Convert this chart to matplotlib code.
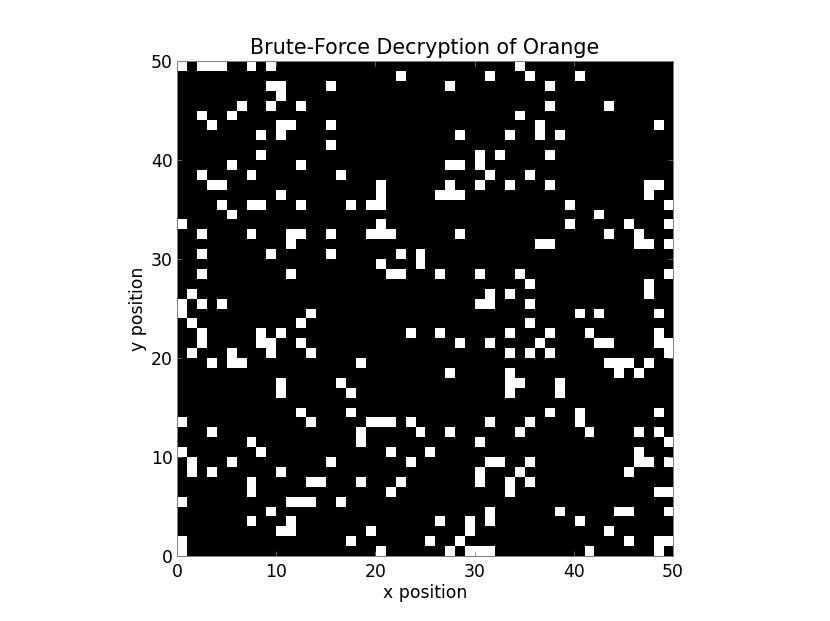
import numpy as np
import matplotlib
matplotlib.use("Agg")
import matplotlib.pyplot as plt

n_cells = 50

# columns of the white cells, one list per row, from y=49 down to y=0
white_cols = [
    [0, 2, 3, 4, 7, 9, 34],
    [22, 31, 35, 40],
    [9, 10, 15, 27, 37],
    [10],
    [6, 9, 12, 37, 43],
    [2, 5, 34],
    [3, 10, 11, 15, 36, 48],
    [8, 10, 28, 33, 36, 38],
    [15],
    [8, 30, 32, 37],
    [5, 12, 27, 28, 30],
    [2, 7, 16, 31, 35],
    [3, 4, 20, 27, 30, 33, 37, 47, 48],
    [10, 20, 26, 27, 28, 47],
    [4, 7, 8, 12, 17, 19, 20, 39, 49],
    [5, 42],
    [0, 20, 39, 45, 49],
    [2, 7, 11, 12, 15, 19, 20, 21, 28, 43, 46],
    [11, 36, 37, 46, 47, 49],
    [2, 9, 15, 22, 24],
    [20, 24],
    [2, 11, 21, 22, 26, 30, 34, 49],
    [35, 47],
    [1, 31, 33, 47],
    [0, 2, 4, 30, 31, 35],
    [0, 13, 40, 42, 48],
    [1, 12, 35],
    [2, 8, 10, 23, 26, 33, 37, 41, 48],
    [2, 8, 9, 12, 28, 31, 36, 42, 43, 48, 49],
    [1, 5, 9, 13, 33, 35, 37, 49],
    [3, 5, 6, 18, 43, 44, 45, 47],
    [27, 33, 44, 46],
    [10, 16, 33, 34, 38],
    [10, 17, 33, 38],
    [],
    [12, 17, 37, 40, 48],
    [0, 13, 19, 20, 21, 23, 31, 35, 40],
    [3, 18, 24, 27, 34, 41, 46, 48],
    [7, 18, 30, 49],
    [0, 8, 21, 25, 46],
    [1, 5, 15, 23, 31, 32, 35, 46, 47, 49],
    [1, 3, 10, 30, 34, 45],
    [7, 13, 14, 18, 22, 30, 33, 35],
    [7, 21, 33, 48, 49],
    [0, 11, 12, 13, 16],
    [9, 31, 38, 44, 45, 49],
    [7, 11, 26, 29, 31, 40],
    [10, 11, 19, 29, 43],
    [0, 17, 25, 28, 45, 48, 49],
    [0, 20, 27, 29, 30, 31, 41, 48],
]
tick_vals = [0, 10, 20, 30, 40, 50]

grid = np.zeros((n_cells, n_cells))
for i, cols in enumerate(white_cols):
    grid[n_cells - 1 - i, cols] = 1

fig = plt.figure(figsize=(8.3, 6.21), dpi=100)
ax = fig.add_axes([177 / 830, 1 - 556 / 621, 496 / 830, 495 / 621])
ax.imshow(grid, cmap="gray", origin="lower", extent=(0, n_cells, 0, n_cells),
          interpolation="nearest", aspect="auto")
ax.set_xticks(tick_vals)
ax.set_yticks(tick_vals)
ax.tick_params(direction="in", top=True, right=True, length=3.6, width=0.5,
               color="#808080", labelsize=12.4)
ax.tick_params(axis="x", pad=5)
ax.tick_params(axis="y", pad=3)
for spine in ax.spines.values():
    spine.set_color("#808080")
    spine.set_linewidth(0.72)
ax.set_title("Brute-Force Decryption of Orange", fontsize=14.9, pad=5)
ax.set_xlabel("x position", fontsize=12.4, labelpad=2)
ax.set_ylabel("y position", fontsize=12.4, labelpad=3)

fig.savefig("out.png", dpi=100)
